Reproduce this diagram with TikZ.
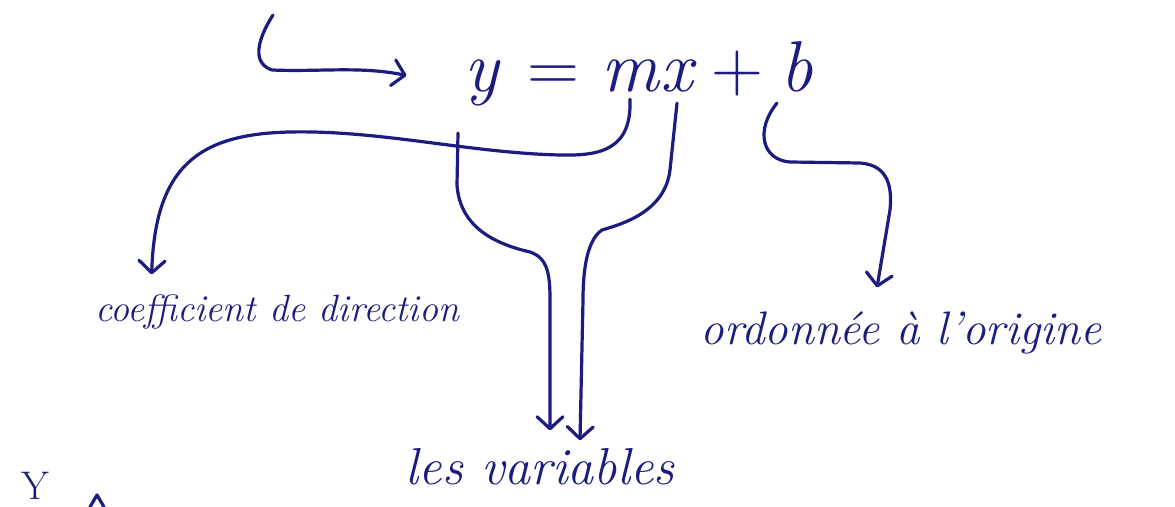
\documentclass[tikz,border=0pt]{standalone}
\usepackage{fontspec}
\usetikzlibrary{arrows.meta}
\definecolor{ink}{RGB}{28,28,128}
\begin{document}
\begin{tikzpicture}[x=0.5pt,y=-0.5pt,
  inkline/.style={draw=ink, line width=1.6pt, line cap=round, line join=round},
  barb/.style={-{Straight Barb[length=6pt,width=13pt,line width=1.6pt,round]}},
  lbl/.style={text=ink, font=\fontsize{19}{22}\selectfont\itshape, inner sep=0pt},
  sym/.style={text=ink, font=\fontsize{36}{40}\selectfont, inner sep=0pt, anchor=base}]
\useasboundingbox (0,0) rectangle (1175,507);
\fill[white] (0,0) rectangle (1175,507);
% equation
\node[sym] (y) at (482,92) {\itshape y};
\node[sym] (eq) at (553,92) {=};
\node[sym] (m) at (630,92) {\itshape m};
\node[sym] (x) at (677,92) {\itshape x};
\node[sym] (plus) at (737,92) {+};
\node[sym] (b) at (797,92) {\itshape b};
% labels
\node[lbl] (coef) at (277,312) {coefficient de direction};
\node[lbl, font=\fontsize{23.5}{26}\selectfont\itshape] (ord) at (901,333) {ordonnée à l'origine};
\node[lbl, font=\fontsize{26}{28}\selectfont\itshape] (var) at (540,467) {les variables};
\node[lbl, font=\fontsize{20}{22}\selectfont, anchor=north] (Y) at (35,472) {Y};
% hook arrow
\coordinate (hs) at (273,15);
\draw[inkline, barb] (hs) .. controls (262,32) and (248,62) .. (272,70)
  .. controls (320,72) and (360,66) .. ([xshift=-29pt,yshift=4pt]y.west);
% slope
\draw[inkline, barb] ([yshift=-3pt]m.south) .. controls (632,150) and (600,156) .. (560,155)
  .. controls (470,153) and (380,130) .. (290,132)
  .. controls (200,134) and (155,165) .. ([xshift=28.5pt,yshift=10pt]coef.north west);
% variables
\draw[inkline, barb] ([xshift=-12pt,yshift=-13pt]y.south) -- (457,185)
  .. controls (460,230) and (500,245) .. (530,252)
  .. controls (548,258) and (550,275) .. (550,300) -- ([xshift=5pt,yshift=9pt]var.north);
\draw[inkline, barb] ([yshift=-5pt]x.south) -- (670,170)
  .. controls (665,212) and (622,224) .. (602,230)
  .. controls (587,240) and (583,270) .. (583,300) -- ([xshift=20pt,yshift=4pt]var.north);
% intercept
\draw[inkline, barb] ([xshift=-10pt,yshift=-5pt]b.south) .. controls (755,130) and (762,160) .. (790,162)
  -- (860,163) .. controls (890,165) and (892,190) .. (890,210) -- ([xshift=-12pt,yshift=12pt]ord.north);
% caret at bottom
\draw[inkline] (90,507) -- (97,495) -- (104,507);
\end{tikzpicture}
\end{document}
